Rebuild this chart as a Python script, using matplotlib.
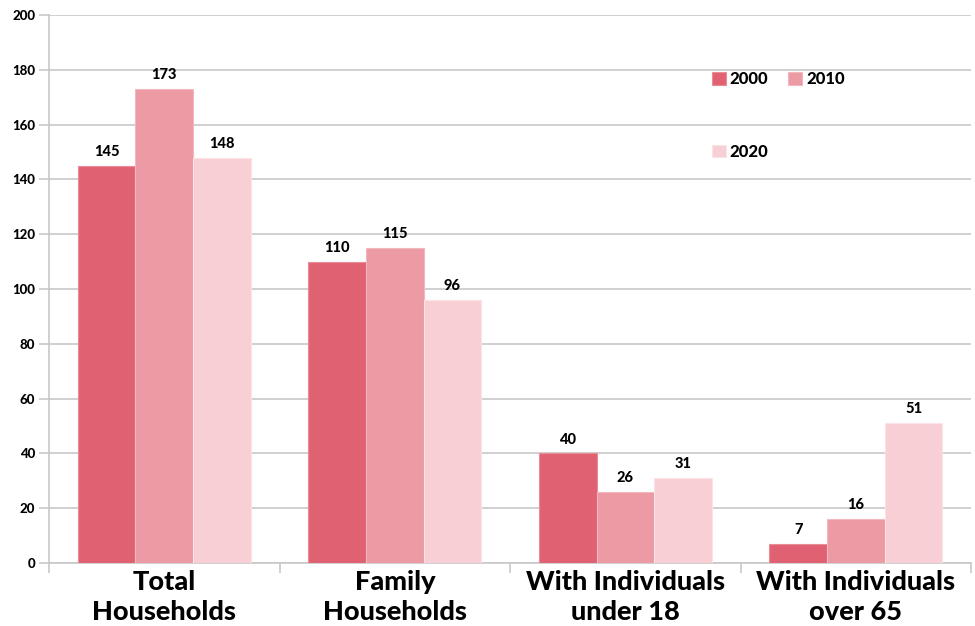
import matplotlib.pyplot as plt
import numpy as np

categories = ["Total\nHouseholds", "Family\nHouseholds",
              "With Individuals\nunder 18", "With Individuals\nover 65"]
years = ["2000", "2010", "2020"]
values_2000 = [145, 110, 40, 7]
values_2010 = [173, 115, 26, 16]
values_2020 = [148, 96, 31, 51]

COLORS = ["#E06272", "#EC9AA4", "#F7CFD5"]
EDGES = ["#EA8C97", "#F3B8BF", "#FBE3E6"]
WEIGHT = 'black'

plt.rcParams['font.family'] = ['Lato', 'DejaVu Sans']
plt.rcParams['font.weight'] = WEIGHT

fig = plt.figure(figsize=(9.75, 6.26), dpi=100)
ax = fig.add_axes([0.0503, 0.1006, 0.9457, 0.8754])

x = np.arange(len(categories))
width = 0.25
series = [values_2000, values_2010, values_2020]
bars = []
for i, (year, vals) in enumerate(zip(years, series)):
    b = ax.bar(x + (i - 1) * width, vals, width, color=COLORS[i],
               edgecolor=EDGES[i], linewidth=0.8, label=year, zorder=3)
    bars.append(b)
    for rect, v in zip(b, vals):
        ax.text(rect.get_x() + rect.get_width() / 2, v + 2.5, str(v),
                ha='center', va='bottom', fontsize=10.5, fontweight=WEIGHT)

ax.set_xlim(-0.5, len(categories) - 0.5)
ax.set_ylim(0, 200)
ax.set_yticks(range(0, 201, 20))
ax.yaxis.grid(True, color="#C8C8C8", linewidth=1.2, zorder=0)
ax.set_axisbelow(True)

# category labels centred, ticks on the group boundaries
ax.set_xticks(x)
ax.set_xticklabels(categories, fontsize=19.5, fontweight=WEIGHT,
                   linespacing=1.3)
ax.tick_params(axis='x', length=0, pad=5)
ax.set_xticks(np.arange(len(categories) + 1) - 0.5, minor=True)
ax.tick_params(axis='x', which='minor', length=7, color="#C8C8C8", width=1.2)
ax.tick_params(axis='y', length=7, color="#C8C8C8", width=1.2,
               labelsize=9.5, pad=3)
for lbl in ax.get_yticklabels():
    lbl.set_fontweight(WEIGHT)

for side in ['top', 'right']:
    ax.spines[side].set_visible(False)
for side in ['left', 'bottom']:
    ax.spines[side].set_color("#C8C8C8")
    ax.spines[side].set_linewidth(1.2)

handles = [bars[0], bars[2], bars[1]]
labels = [years[0], years[2], years[1]]
ax.legend(handles, labels, ncol=2, loc='upper left',
          bbox_to_anchor=(0.703, 0.925), frameon=False,
          handlelength=0.8, handleheight=0.8, handletextpad=0.25,
          columnspacing=1.2, labelspacing=3.4,
          prop={'size': 12, 'weight': WEIGHT})

fig.savefig("out.png", dpi=100)
